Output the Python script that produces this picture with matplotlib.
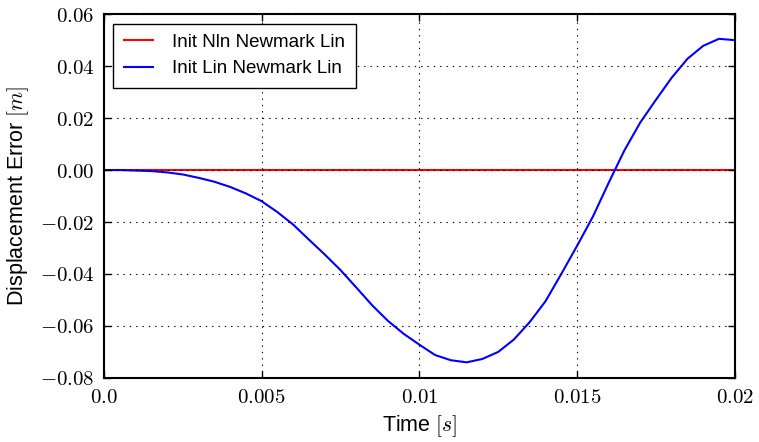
import matplotlib
matplotlib.use("Agg")
import matplotlib.pyplot as plt

plt.rcParams['font.family'] = ['Liberation Sans', 'DejaVu Sans']
plt.rcParams['mathtext.fontset'] = 'cm'

# displacement error over time, sampled every 0.5 ms
time = [0.0, 0.0005, 0.001, 0.0015, 0.002, 0.0025, 0.003, 0.0035, 0.004, 0.0045,
        0.005, 0.0055, 0.006, 0.0065, 0.007, 0.0075, 0.008, 0.0085, 0.009, 0.0095,
        0.010, 0.0105, 0.011, 0.0115, 0.012, 0.0125, 0.013, 0.0135, 0.014, 0.0145,
        0.015, 0.0155, 0.016, 0.0165, 0.017, 0.0175, 0.018, 0.0185, 0.019, 0.0195,
        0.020]
err_nln = [0.0] * len(time)
err_lin = [0.0, 0.0, -0.0002, -0.0004, -0.0009, -0.0017, -0.003, -0.0045, -0.0065, -0.009,
           -0.012, -0.0162, -0.021, -0.0268, -0.0325, -0.0385, -0.0452, -0.052, -0.058, -0.063,
           -0.0672, -0.0712, -0.0732, -0.0740, -0.0727, -0.0700, -0.0652, -0.0585, -0.0505, -0.0400,
           -0.0292, -0.0180, -0.0050, 0.0075, 0.0182, 0.0270, 0.0355, 0.0428, 0.0478, 0.0505,
           0.0500]

xticks = [0.0, 0.005, 0.01, 0.015, 0.02]
xtick_labels = ['0.0', '0.005', '0.01', '0.015', '0.02']
yticks = [-0.08, -0.06, -0.04, -0.02, 0.0, 0.02, 0.04, 0.06]
ytick_labels = ['-0.08', '-0.06', '-0.04', '-0.02', '0.00', '0.02', '0.04', '0.06']

fig = plt.figure(figsize=(7.59, 4.42), dpi=100)
ax = fig.add_axes([0.137, 0.145, 0.831, 0.823])

ax.plot(time, err_nln, color='red', linewidth=1.5, label='Init Nln Newmark Lin')
ax.plot(time, err_lin, color='blue', linewidth=1.5, label='Init Lin Newmark Lin')

ax.set_xlim(0, 0.02)
ax.set_ylim(-0.08, 0.06)
ax.set_xticks(xticks)
ax.set_xticklabels(['$%s$' % s for s in xtick_labels], fontsize=15)
ax.set_yticks(yticks)
ax.set_yticklabels(['$%s$' % s for s in ytick_labels], fontsize=15)
ax.tick_params(direction='in', top=True, right=True, length=5, width=1, pad=7)

ax.set_axisbelow(False)
ax.grid(True, color='black', linestyle=(0, (1.2, 4.5)), linewidth=0.8)
for sp in ax.spines.values():
    sp.set_linewidth(1.5)

ax.set_xlabel('Time $[s]$', fontsize=15.5, labelpad=5)
ax.set_ylabel('Displacement Error $[m]$', fontsize=15.5, labelpad=6)

leg = ax.legend(loc='upper left', fontsize=13.5, fancybox=False, edgecolor='black',
                framealpha=1, handlelength=1.55, handletextpad=1.05,
                borderpad=0.55, labelspacing=0.5, borderaxespad=0.5)
leg.get_frame().set_linewidth(1.0)

fig.savefig('out.png', dpi=100)
